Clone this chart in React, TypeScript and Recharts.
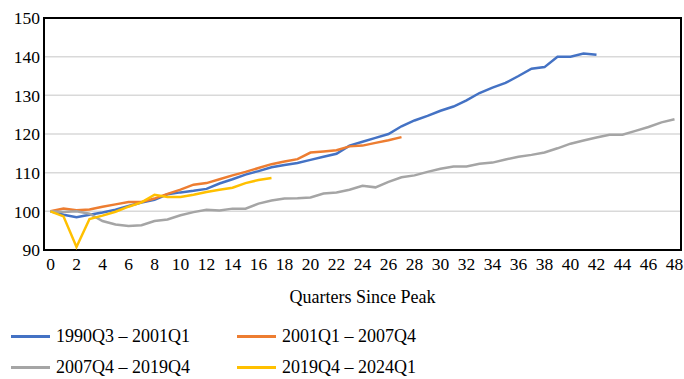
import { CartesianGrid, Line, LineChart, ReferenceArea, XAxis, YAxis } from "recharts";

const quarters = Array.from({ length: 49 }, (_, i) => i);
const xTicks = [0, 2, 4, 6, 8, 10, 12, 14, 16, 18, 20, 22, 24, 26, 28, 30, 32, 34, 36, 38, 40, 42, 44, 46, 48];
const yTicks = [90, 100, 110, 120, 130, 140, 150];

const s1990 = [
  100, 99.1, 98.5, 99.1, 99.7, 100.4, 101.4, 102.3, 103, 104.4, 104.9, 105.3, 105.8, 107.2, 108.3,
  109.5, 110.4, 111.4, 112, 112.5, 113.3, 114.1, 114.9, 117, 118, 119, 120, 122, 123.5, 124.7, 126,
  127.1, 128.7, 130.6, 132, 133.2, 135, 136.9, 137.3, 140, 140, 140.8, 140.5,
];
const s2001 = [
  100, 100.7, 100.3, 100.5, 101.2, 101.8, 102.4, 102.4, 103.3, 104.5, 105.6, 106.9, 107.3, 108.3,
  109.3, 110.2, 111.2, 112.2, 112.9, 113.5, 115.2, 115.5, 115.8, 116.8, 117, 117.7, 118.4, 119.2,
];
const s2007 = [
  100, 99.8, 100, 99.4, 97.5, 96.6, 96.2, 96.4, 97.5, 97.9, 99, 99.8, 100.4, 100.2, 100.7, 100.7,
  102, 102.8, 103.3, 103.4, 103.6, 104.6, 104.9, 105.6, 106.6, 106.2, 107.6, 108.8, 109.3, 110.2,
  111, 111.6, 111.6, 112.3, 112.6, 113.4, 114.1, 114.6, 115.2, 116.3, 117.5, 118.3, 119.1, 119.8,
  119.8, 120.8, 121.8, 123, 123.8,
];
const s2019 = [
  100, 98.7, 90.8, 98, 98.9, 99.9, 101.2, 102.3, 104.3, 103.7, 103.7, 104.3, 105, 105.6, 106.1,
  107.3, 108.1, 108.6,
];

const series = [
  { key: "a", name: "1990Q3 – 2001Q1", color: "#4472C4", values: s1990 },
  { key: "b", name: "2001Q1 – 2007Q4", color: "#ED7D31", values: s2001 },
  { key: "c", name: "2007Q4 – 2019Q4", color: "#A5A5A5", values: s2007 },
  { key: "d", name: "2019Q4 – 2024Q1", color: "#FFC000", values: s2019 },
];

const data = quarters.map((q) => {
  const row: Record<string, number | undefined> = { q };
  series.forEach((s) => {
    row[s.key] = s.values[q];
  });
  return row;
});

const font = "'Liberation Serif', 'DejaVu Serif', serif";
const tickStyle = { fill: "#000", fontSize: 17.5, fontFamily: font };

function LegendItem({ name, color, x, y }: { name: string; color: string; x: number; y: number }) {
  return (
    <div style={{ position: "absolute", left: x, top: y, display: "flex", alignItems: "center" }}>
      <div style={{ width: 39, height: 3, background: color, marginRight: 6 }} />
      <span style={{ fontFamily: font, fontSize: 18, color: "#000", whiteSpace: "nowrap" }}>{name}</span>
    </div>
  );
}

export default function App() {
  return (
    <div style={{ position: "absolute", left: 0, top: 0, width: 684, height: 379, background: "#fff" }}>
      <LineChart width={684} height={379} data={data} margin={{ top: 18, right: 3, left: 0, bottom: 99 }}>
        <CartesianGrid vertical={false} stroke="#d9d9d9" strokeWidth={1.5} />
        <XAxis
          dataKey="q"
          type="number"
          domain={[-0.5, 48.5]}
          ticks={xTicks}
          interval={0}
          tick={tickStyle}
          tickLine={false}
          axisLine={false}
          tickSize={0}
          tickMargin={8}
          height={30}
          label={{ value: "Quarters Since Peak", position: "bottom", offset: 10, style: { fill: "#000", fontSize: 18, fontFamily: font } }}
        />
        <YAxis
          domain={[90, 150]}
          ticks={yTicks}
          interval={0}
          tick={tickStyle}
          tickLine={false}
          axisLine={false}
          tickSize={0}
          tickMargin={4}
          width={44}
        />
        {series.map((s) => (
          <Line
            key={s.key}
            dataKey={s.key}
            name={s.name}
            stroke={s.color}
            strokeWidth={2.5}
            dot={false}
            activeDot={false}
            type="linear"
            connectNulls={false}
            isAnimationActive={false}
          />
        ))}
        <ReferenceArea x1={-0.5} x2={48.5} y1={90} y2={150} fill="none" stroke="#000" strokeWidth={2} ifOverflow="visible" />
      </LineChart>
      <LegendItem name={series[0].name} color={series[0].color} x={11} y={326} />
      <LegendItem name={series[1].name} color={series[1].color} x={237} y={326} />
      <LegendItem name={series[2].name} color={series[2].color} x={11} y={357} />
      <LegendItem name={series[3].name} color={series[3].color} x={237} y={357} />
    </div>
  );
}
